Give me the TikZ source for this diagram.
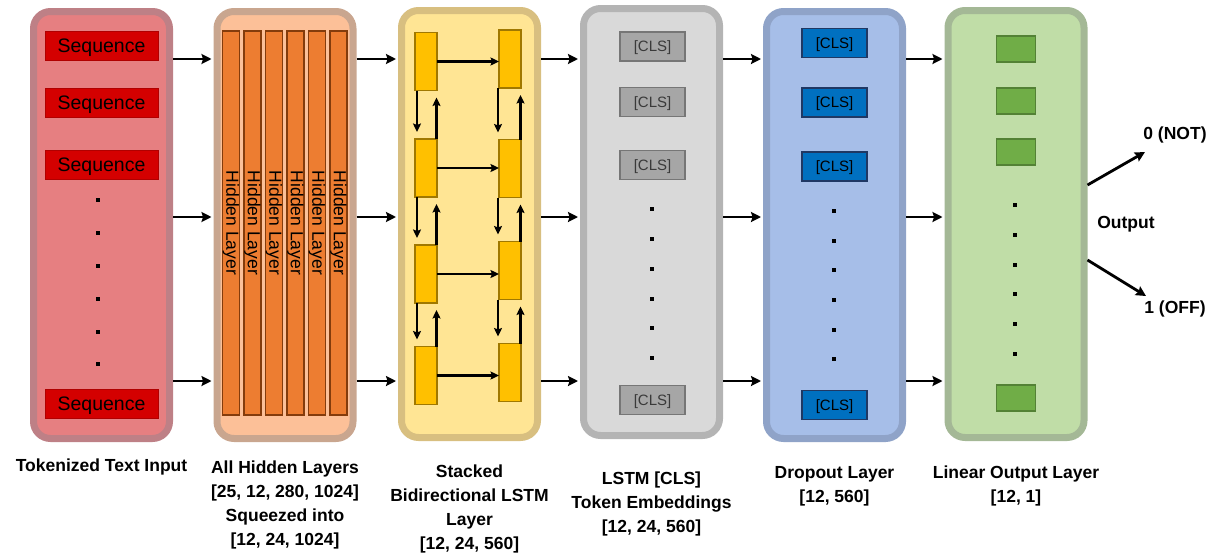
\documentclass[tikz,border=0pt]{standalone}
\usepackage{fontspec}
\setmainfont{Liberation Sans}
\usetikzlibrary{arrows.meta,positioning}

\definecolor{tokfill}{HTML}{E67F81}
\definecolor{tokline}{HTML}{BE8086}
\definecolor{seqfill}{HTML}{D40000}
\definecolor{seqline}{HTML}{B00000}
\definecolor{hidfill}{HTML}{FCC098}
\definecolor{hidline}{HTML}{C9A68F}
\definecolor{barfill}{HTML}{ED7D31}
\definecolor{barline}{HTML}{843C0C}
\definecolor{lstfill}{HTML}{FFE594}
\definecolor{lstline}{HTML}{D8BF80}
\definecolor{cellfill}{HTML}{FFC000}
\definecolor{cellline}{HTML}{A07800}
\definecolor{clsfill}{HTML}{D9D9D9}
\definecolor{clsline}{HTML}{B4B4B4}
\definecolor{grayfill}{HTML}{A6A6A6}
\definecolor{grayline}{HTML}{767676}
\definecolor{graytext}{HTML}{3A3A3A}
\definecolor{dropfill}{HTML}{A6BEE8}
\definecolor{dropline}{HTML}{8FA3C8}
\definecolor{bluefill}{HTML}{0070C0}
\definecolor{blueline}{HTML}{1F3864}
\definecolor{linfill}{HTML}{C0DDA7}
\definecolor{linline}{HTML}{A4B896}
\definecolor{greenfill}{HTML}{70AD47}
\definecolor{greenline}{HTML}{538135}

\begin{document}
\begin{tikzpicture}[x=1pt,y=-1pt]

    \tikzset{
      panel/.style={
        draw,
        rounded corners=17pt,
        line width=7pt,
        minimum width=136pt,
        minimum height=427pt,
        inner sep=0pt,
      },
      seqbox/.style={
        draw=seqline, fill=seqfill, line width=1pt, text depth=0pt,
        minimum width=113pt, minimum height=29pt, inner sep=0pt,
        font=\fontsize{19.5}{19.5}\selectfont,
      },
      hbar/.style={
        draw=barline, fill=barfill, line width=1.3pt, rotate=-90,
        minimum width=384pt, minimum height=17pt, inner sep=0pt,
        font=\fontsize{17.5}{17.5}\selectfont,
      },
      cell/.style={
        draw=cellline, fill=cellfill, line width=1.3pt, outer sep=0pt,
        minimum width=22pt, minimum height=58pt, inner sep=0pt,
      },
      clsbox/.style={
        line width=1.5pt, minimum width=65pt, minimum height=29pt, text depth=0pt,
        inner sep=0pt, font=\fontsize{15}{15}\selectfont,
      },
      gbox/.style={
        draw=greenline, fill=greenfill, line width=1.5pt,
        minimum width=39pt, minimum height=26pt, inner sep=0pt,
      },
      link/.style={line width=2.8pt, -{Stealth[length=10pt,width=10pt,inset=1.5pt]}, shorten >=2pt},
      flow/.style={line width=2.2pt, -{Stealth[length=8.5pt,width=8pt,inset=1.5pt]}},
      caption/.style={align=center, inner sep=0pt, anchor=north,
        font=\bfseries\fontsize{17.5}{24}\selectfont},
    }
    \useasboundingbox (0,0) rectangle (1218,557);

    % panels
    \node[panel, draw=tokline, fill=tokfill] (tok) at (101.5,225) {};
    \node[panel, draw=hidline, fill=hidfill] (hid) at (285,225) {};
    \node[panel, draw=lstline, fill=lstfill] (lstm) at (469.5,224) {};
    \node[panel, draw=clsline, fill=clsfill] (cls) at (651.5,222) {};
    \node[panel, draw=dropline, fill=dropfill] (drop) at (834.5,225) {};
    \node[panel, draw=linline, fill=linfill] (lin) at (1016,224) {};

    % tokenized input
    \node[seqbox] (seq1) at (101.5,45.5) {Sequence};
    \node[seqbox] (seq2) at (101.5,103) {Sequence};
    \node[seqbox] (seq3) at (101.5,164.5) {Sequence};
    \node[seqbox] (seq4) at (101.5,404) {Sequence};
    \foreach \y in {200,233,266,299,332,364}
      \fill (98,\y) +(-2,-2) rectangle +(2,2);

    % hidden layers
    \foreach \i in {1,...,6}
      \node[hbar] (hb\i) at ({231+21.5*(\i-1)},223) {Hidden Layer};

    % stacked bidirectional lstm
    \node[cell] (l1) at (426,61.5) {};
    \node[cell] (l2) at (426,168) {};
    \node[cell] (l3) at (426,274) {};
    \node[cell] (l4) at (426,375.5) {};
    \node[cell] (r1) at (510,59) {};
    \node[cell] (r2) at (510,168.5) {};
    \node[cell] (r3) at (510,270.5) {};
    \node[cell] (r4) at (510,372.5) {};
    \foreach \k in {1,...,4}
      \draw[flow] (l\k.east) -- (r\k.west |- l\k.east);
    \foreach \a/\b in {1/2,2/3,3/4} {
      \draw[flow, shorten >=7pt] ([xshift=2pt]l\a.south west) -- ([xshift=2pt]l\b.north west);
      \draw[flow, shorten >=7pt] ([xshift=-0.5pt]l\b.north east) -- ([xshift=-0.5pt]l\a.south east);
      \draw[flow, shorten >=7pt] ([xshift=-1pt]r\a.south west) -- ([xshift=-1pt]r\b.north west);
      \draw[flow, shorten >=7pt] ([xshift=-0.5pt]r\b.north east) -- ([xshift=-0.5pt]r\a.south east);
    }

    % lstm cls embeddings
    \foreach \n/\y in {1/46.5,2/102,3/165,4/400}
      \node[clsbox, draw=grayline, fill=grayfill, text=graytext] (gc\n) at (652.5,\y) {[CLS]};
    \foreach \y in {209,239,269,299,328,358}
      \fill (652,\y) +(-2,-2) rectangle +(2,2);

    % dropout
    \foreach \n/\y in {1/43,2/102.5,3/166.5,4/405}
      \node[clsbox, draw=blueline, fill=bluefill, line width=1.8pt] (bc\n) at (834.5,\y) {[CLS]};
    \foreach \y in {211,241,270,300,330,359}
      \fill (834,\y) +(-2,-2) rectangle +(2,2);

    % linear output
    \foreach \n/\y in {1/49,2/101,3/152,4/398}
      \node[gbox] (go\n) at (1016,\y) {};
    \foreach \y in {205,235,265,294,324,354}
      \fill (1015,\y) +(-2,-2) rectangle +(2,2);

    % connectors between panels
    \coordinate (row1) at (0,59);
    \coordinate (row2) at (0,217);
    \coordinate (row3) at (0,381);
    \foreach \p/\q in {tok/hid,hid/lstm,lstm/cls,cls/drop,drop/lin}
      \foreach \r in {row1,row2,row3}
        \draw[link] (\p.east |- \r) -- (\q.west |- \r);

    % output
    \node[font=\bfseries\fontsize{17.5}{17.5}\selectfont, inner sep=0pt] (yes) at (1175,135) {0 (NOT)};
    \node[font=\bfseries\fontsize{17.5}{17.5}\selectfont, inner sep=0pt] (outl) at (1126,224) {Output};
    \node[font=\bfseries\fontsize{17.5}{17.5}\selectfont, inner sep=0pt] (no) at (1175,309) {1 (OFF)};
    \coordinate (yesend) at (1145,152);
    \coordinate (noend) at (1146,296);
    \draw[link, shorten >=0pt] ([yshift=39pt]lin.east) -- (yesend);
    \draw[link, shorten >=0pt] ([yshift=-36pt]lin.east) -- (noend);

    % captions
    \node[caption, below=17pt of tok] (captok) {Tokenized Text Input};
    \node[caption, below=19pt of hid] (caphid) {All Hidden Layers\\{[25, 12, 280, 1024]}\\Squeezed into\\{[12, 24, 1024]}};
    \node[caption, below=24pt of lstm] (caplstm) {Stacked\\Bidirectional LSTM\\Layer\\{[12, 24, 560]}};
    \node[caption, below=33pt of cls] (capcls) {LSTM [CLS]\\Token Embeddings\\{[12, 24, 560]}};
    \node[caption, below=24pt of drop] (capdrop) {Dropout Layer\\{[12, 560]}};
    \node[caption, below=25pt of lin] (caplin) {Linear Output Layer\\{[12, 1]}};

\end{tikzpicture}
\end{document}
